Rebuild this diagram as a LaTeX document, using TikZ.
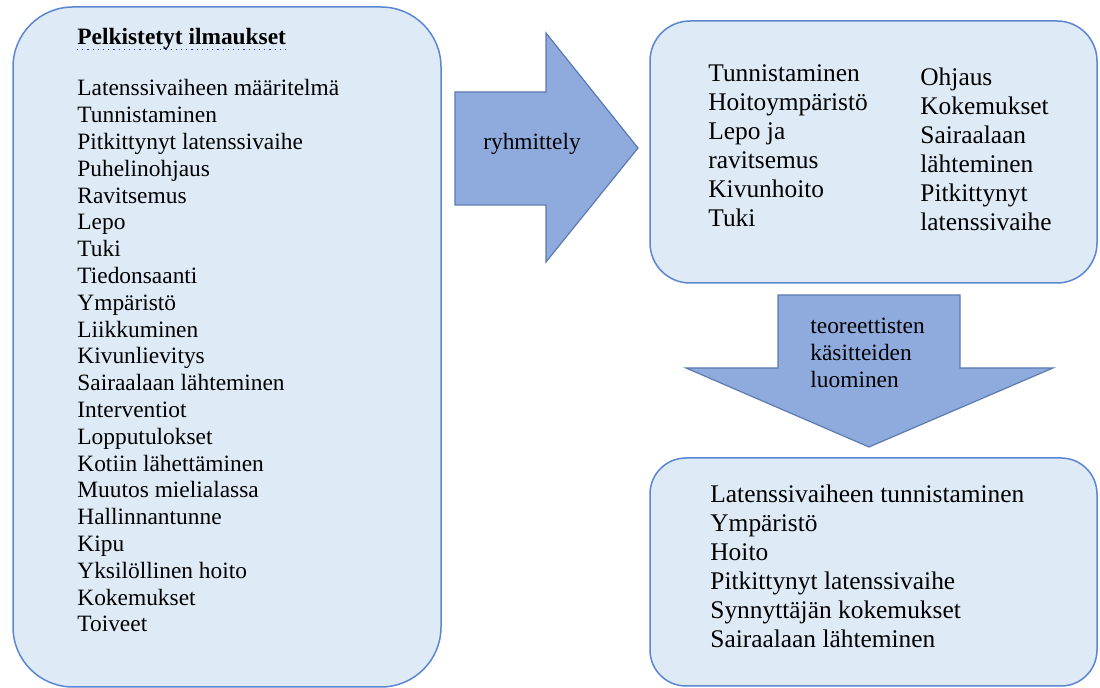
\documentclass[tikz,border=0pt]{standalone}
\usepackage{fontspec}
\setmainfont{Liberation Serif}
\usepackage{tikz}
\usetikzlibrary{calc}
\usetikzlibrary{positioning}

\definecolor{boxfill}{HTML}{DEEAF6}
\definecolor{boxline}{HTML}{5A86D2}
\definecolor{arrowfill}{HTML}{8FAADC}
\definecolor{arrowline}{HTML}{5B7BB2}

\begin{document}
\begin{tikzpicture}[x=0.5pt,y=-0.5pt]
\tikzstyle{box}=[draw=boxline,fill=boxfill,line width=0.75pt]
\tikzstyle{blockarrow}=[draw=arrowline,fill=arrowfill,line width=0.6pt,line join=miter]
\tikzstyle{small}=[anchor=base west,align=left,inner sep=0pt,font=\fontsize{11.7}{13.4}\selectfont]
\tikzstyle{large}=[anchor=base west,align=left,inner sep=0pt,font=\fontsize{12.7}{14.5}\selectfont]
\tikzstyle{spell}=[draw=blue!80,dotted,line width=0.6pt]
\useasboundingbox (0,0) rectangle (1100,688);

% boxes
\draw[box,rounded corners=30pt] (13,7) rectangle (441,687);
\draw[box,rounded corners=20pt] (650,21) rectangle (1097,283);
\draw[box,rounded corners=18pt] (650,458) rectangle (1097,686);

% block arrows
\draw[blockarrow] (455,92) -- (546,92) -- (546,33) -- (638,148) -- (546,262) -- (546,205) -- (455,205) -- cycle;
\draw[blockarrow] (778,295) -- (960,295) -- (960,368) -- (1053,368) -- (869,447) -- (686,368) -- (778,368) -- cycle;

% left box (multi-line nodes sit on the baseline of their last line)
\node[small,font=\fontsize{11.7}{13.4}\selectfont\bfseries] at(77, 45) (head) {Pelkistetyt ilmaukset};
\draw[spell] ([yshift=-2.2pt]head.base west) -- ([yshift=-2.2pt]head.base east);
\node[small] at(77, 632) (ilmaukset) {Latenssivaiheen määritelmä\\
                                      Tunnistaminen\\
                                      Pitkittynyt latenssivaihe\\
                                      Puhelinohjaus\\
                                      Ravitsemus\\
                                      Lepo\\
                                      Tuki\\
                                      Tiedonsaanti\\
                                      Ympäristö\\
                                      Liikkuminen\\
                                      Kivunlievitys\\
                                      Sairaalaan lähteminen\\
                                      Interventiot\\
                                      Lopputulokset\\
                                      Kotiin lähettäminen\\
                                      Muutos mielialassa\\
                                      Hallinnantunne\\
                                      Kipu\\
                                      Yksilöllinen hoito\\
                                      Kokemukset\\
                                      Toiveet
};

% arrow labels
\node[small,anchor=base] at(532, 150) (ryhmittely) {ryhmittely};
\node[small,font=\fontsize{11.7}{13.7}\selectfont] at(810, 388) (luominen) {teoreettisten\\
                                                                         käsitteiden\\
                                                                         luominen
};

% top right box
\node[large] at(708, 227) (ryhmat1) {Tunnistaminen\\
                                     Hoitoympäristö\\
                                     Lepo ja\\
                                     ravitsemus\\
                                     Kivunhoito\\
                                     Tuki
};
\node[large] at(920, 231) (ryhmat2) {Ohjaus\\
                                     Kokemukset\\
                                     Sairaalaan\\
                                     lähteminen\\
                                     Pitkittynyt\\
                                     latenssivaihe
};

% bottom right box
\node[large] at(710, 648) (kasitteet) {Latenssivaiheen tunnistaminen\\
                                       Ympäristö\\
                                       Hoito\\
                                       Pitkittynyt latenssivaihe\\
                                       Synnyttäjän kokemukset\\
                                       Sairaalaan lähteminen
};
\end{tikzpicture}
\end{document}
